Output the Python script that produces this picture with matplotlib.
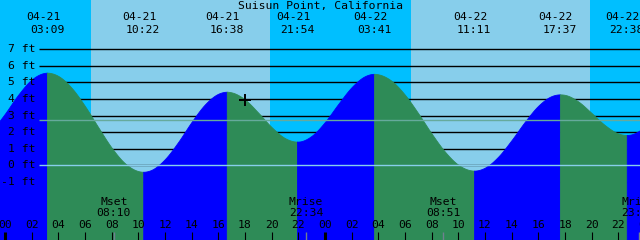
import matplotlib
matplotlib.use('Agg')
import matplotlib.pyplot as plt
import matplotlib.transforms as mtransforms
import numpy as np

# tide data (feet), hours counted from 04-21 00:00
HOURS = list(range(-1, 49))
HEIGHTS = [2.07, 3.12, 4.27, 5.18, 5.58, 5.39, 4.67, 3.57, 2.29, 1.06,
           0.12, -0.35, -0.27, 0.38, 1.42, 2.63, 3.68, 4.32, 4.40, 3.97,
           3.17, 2.30, 1.64, 1.43, 1.78, 2.62, 3.71, 4.72, 5.38, 5.49,
           5.09, 4.25, 3.13, 1.91, 0.82, 0.03, -0.31, -0.14, 0.53, 1.53,
           2.64, 3.60, 4.18, 4.25, 3.85, 3.15, 2.42, 1.92, 1.87, 2.30]

EXT_DATES = ['04-21', '04-21', '04-21', '04-21', '04-22', '04-22', '04-22', '04-22']
EXT_CLOCKS = ['03:09', '10:22', '16:38', '21:54', '03:41', '11:11', '17:37', '22:38']
EXT_HEIGHTS = [5.59, -0.39, 4.44, 1.43, 5.52, -0.32, 4.28, 1.83]

SUNRISE = [('04-21', '06:26'), ('04-22', '06:26')]
SUNSET = [('04-21', '19:52'), ('04-22', '19:52')]

MOON_NAMES = ['Mset', 'Mrise', 'Mset', 'Mrise']
MOON_DATES = ['04-21', '04-21', '04-22', '04-22']
MOON_CLOCKS = ['08:10', '22:34', '08:51', '23:32']

NOW = ('04-21', '18:00')
NOW_HEIGHT = 3.97

FT_LEVELS = [7, 6, 5, 4, 3, 2, 1, 0, -1]
MSL = 2.72
TITLE = 'Suisun Point, California'

NIGHT = '#00bfff'
DAY = '#87ceeb'
FLOOD = '#0000ff'
EBB = '#2e8b57'
FONT = dict(family='DejaVu Sans Mono', fontsize=8.2, color='black')

# pixel layout of the 640x240 picture
PX_PER_HOUR = 320 / 24.0
X0_PX = 5.0
FT0_PX = 165.3
PX_PER_FT = 16.57


def to_hours(date, clock):
    day = 0 if date == '04-21' else 1
    hh, mm = clock.split(':')
    return day * 24 + int(hh) + int(mm) / 60.0


def fy(ypx):
    return 1 - ypx / 240.0


def smooth(ts, hs, flat):
    # cubic hermite through the points, flat tangent at the turning points
    ts = np.asarray(ts, float)
    hs = np.asarray(hs, float)
    m = np.gradient(hs, ts)
    m[flat] = 0.0
    xs, ys = [], []
    for i in range(len(ts) - 1):
        d = ts[i + 1] - ts[i]
        s = np.linspace(0, 1, 9)[:-1] if i < len(ts) - 2 else np.linspace(0, 1, 9)
        h00 = 2 * s**3 - 3 * s**2 + 1
        h10 = s**3 - 2 * s**2 + s
        h01 = -2 * s**3 + 3 * s**2
        h11 = s**3 - s**2
        xs.append(ts[i] + s * d)
        ys.append(h00 * hs[i] + h10 * d * m[i] + h01 * hs[i + 1] + h11 * d * m[i + 1])
    return np.concatenate(xs), np.concatenate(ys)


def main():
    fig = plt.figure(figsize=(6.4, 2.4), dpi=100)
    ax = fig.add_axes([0, 0, 1, 1])
    xmin = -X0_PX / PX_PER_HOUR
    xmax = (640 - X0_PX) / PX_PER_HOUR
    ybot = (FT0_PX - 240) / PX_PER_FT
    ytop = FT0_PX / PX_PER_FT
    ax.set_xlim(xmin, xmax)
    ax.set_ylim(ybot, ytop)
    ax.axis('off')
    trans = mtransforms.blended_transform_factory(ax.transData, ax.transAxes)

    # night / day sky
    rises = [to_hours(*s) for s in SUNRISE]
    sets = [to_hours(*s) for s in SUNSET]
    ax.axvspan(xmin, xmax, color=NIGHT, lw=0, zorder=0)
    for r, s in zip(rises, sets):
        ax.axvspan(r, s, color=DAY, lw=0, zorder=0)

    # grid lines
    gx0 = (39 - X0_PX) / PX_PER_HOUR
    ax.hlines(FT_LEVELS, gx0, xmax, color='black', lw=1.0, zorder=1)

    # water
    ext_t = [to_hours(d, c) for d, c in zip(EXT_DATES, EXT_CLOCKS)]
    pts = sorted(set(zip(HOURS, HEIGHTS)) | set(zip(ext_t, EXT_HEIGHTS)))
    pt_t = [p[0] for p in pts]
    pt_h = [p[1] for p in pts]
    flat = [pt_t.index(t) for t in ext_t]
    ct, ch = smooth(pt_t, pt_h, flat)
    bounds = [(HOURS[0], HEIGHTS[0])] + list(zip(ext_t, EXT_HEIGHTS)) + [(HOURS[-1], HEIGHTS[-1])]
    for (t0, h0), (t1, h1) in zip(bounds[:-1], bounds[1:]):
        sel = (ct >= t0 - 1e-9) & (ct <= t1 + 1e-9)
        col = FLOOD if h1 > h0 else EBB
        ax.fill_between(ct[sel], ch[sel], ybot, color=col, lw=0.6,
                        edgecolor=col, zorder=2)

    ax.hlines([0], gx0, xmax, color=DAY, lw=1.0, zorder=3)
    ax.hlines([MSL], gx0, xmax, color='#66aa9c', lw=1.0, zorder=3)

    # y labels
    for lv in FT_LEVELS:
        ypx = FT0_PX - lv * PX_PER_FT
        ax.text(35 / 640.0, fy(ypx), '%d ft' % lv, transform=ax.transAxes,
                ha='right', va='center', zorder=5, **FONT)

    # title and extremes
    ax.text(0.5, fy(6), TITLE, transform=ax.transAxes, ha='center',
            va='center', zorder=5, **FONT)
    for t, d, c in zip(ext_t, EXT_DATES, EXT_CLOCKS):
        ax.text(t - 4 / PX_PER_HOUR, fy(17), d, transform=trans, ha='center',
                va='center', zorder=5, **FONT)
        ax.text(t, fy(30), c, transform=trans, ha='center', va='center',
                zorder=5, **FONT)

    # moon events
    for n, d, c in zip(MOON_NAMES, MOON_DATES, MOON_CLOCKS):
        t = to_hours(d, c)
        ax.text(t, fy(202), n, transform=trans, ha='center', va='center',
                zorder=5, **FONT)
        ax.text(t, fy(213.5), c, transform=trans, ha='center', va='center',
                zorder=5, **FONT)
        ax.vlines(t, fy(240), fy(232), transform=trans, color='#708090',
                  lw=1.0, zorder=4)

    # hour ticks
    for h in range(0, 50, 2):
        lw = 2.2 if h % 24 == 0 else 0.8
        ax.vlines(h, fy(240), fy(232), transform=trans, color='black',
                  lw=lw, zorder=4)
        ax.text(h, fy(225.5), '%02d' % (h % 24), transform=trans,
                ha='center', va='center', zorder=5, **FONT)

    # current time mark
    ax.plot([to_hours(*NOW)], [NOW_HEIGHT], marker='+', color='black',
            ms=8, mew=1.4, zorder=6)

    fig.savefig('out.png', dpi=100)


if __name__ == '__main__':
    main()
